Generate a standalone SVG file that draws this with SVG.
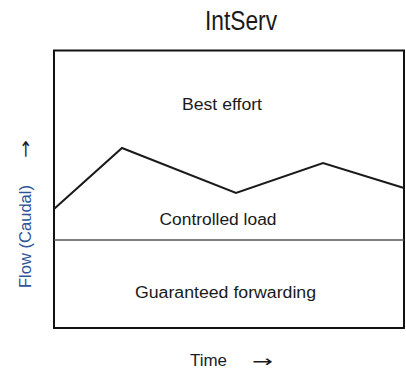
<svg xmlns="http://www.w3.org/2000/svg" width="406" height="370" viewBox="0 0 406 370">
<style>
.lbl{font-family:"Liberation Sans",Arial,sans-serif;font-size:16px;fill:#1a1a1a;text-anchor:middle}
.title{font-family:"Liberation Sans Narrow","Liberation Sans",Arial,sans-serif;font-size:27px;fill:#1a1a1a;text-anchor:middle}
.axis{font-family:"Liberation Sans",Arial,sans-serif;font-size:16px;text-anchor:middle}
.arrow{font-family:"DejaVu Sans",sans-serif;font-size:16px;fill:#1a1a1a;text-anchor:middle;dominant-baseline:central}
</style>
<rect width="406" height="370" fill="#ffffff"/>
<g id="title"><text class="title" x="241" y="30" textLength="72" lengthAdjust="spacingAndGlyphs">IntServ</text></g>
<g id="chart">
<rect x="54" y="50.5" width="350" height="277.5" fill="none" stroke="#111" stroke-width="2"/>
</g>
<g id="connectors">
<polyline points="54,209 122,148 236,193 323,163 404,188" fill="none" stroke="#1a1a1a" stroke-width="2"/>
<line x1="54" y1="240" x2="404" y2="240" stroke="#555" stroke-width="1.5"/>
</g>
<g id="best-effort"><text class="lbl" x="222" y="110" textLength="80" lengthAdjust="spacingAndGlyphs">Best effort</text></g>
<g id="controlled-load"><text class="lbl" x="218" y="225" textLength="117" lengthAdjust="spacingAndGlyphs">Controlled load</text></g>
<g id="guaranteed-forwarding"><text class="lbl" x="225.5" y="298" textLength="181" lengthAdjust="spacingAndGlyphs">Guaranteed forwarding</text></g>
<g id="y-axis">
<text class="axis" fill="#2e5597" transform="translate(31,236.5) rotate(-90)" textLength="103" lengthAdjust="spacingAndGlyphs">Flow (Caudal)</text>
<text class="arrow" transform="translate(25,149) rotate(-90)" textLength="18" lengthAdjust="spacingAndGlyphs">→</text>
</g>
<g id="x-axis">
<text class="axis" fill="#1a1a2a" x="208.5" y="366" textLength="37" lengthAdjust="spacingAndGlyphs">Time</text>
<text class="arrow" x="262.5" y="361.5" textLength="21" lengthAdjust="spacingAndGlyphs">→</text>
</g>
</svg>
